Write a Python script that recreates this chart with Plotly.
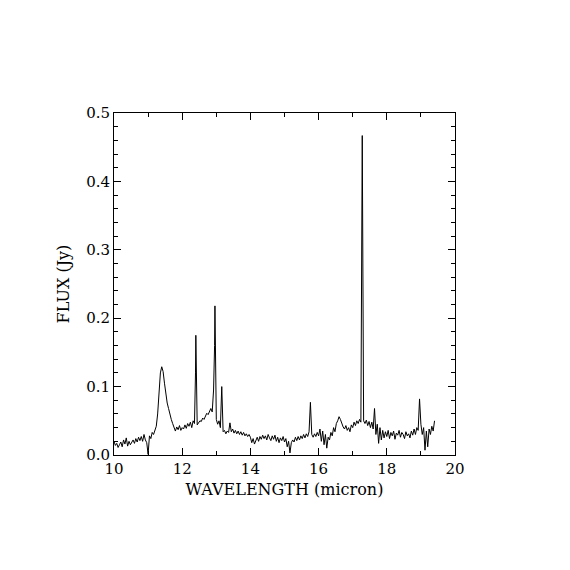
import plotly.graph_objects as go

# ---- spectrum (micron, Jy) ----

wavelength = [
    10.00, 10.04, 10.08, 10.12, 10.16, 10.20, 10.24, 10.28, 10.32, 10.36,
    10.40, 10.44, 10.48, 10.52, 10.56, 10.60, 10.64, 10.68, 10.72, 10.76,
    10.80, 10.84, 10.88, 10.92, 10.96, 11.00, 11.04, 11.08, 11.12, 11.16,
    11.20, 11.24, 11.28, 11.32, 11.36, 11.40, 11.44, 11.48, 11.52, 11.56,
    11.60, 11.64, 11.68, 11.72, 11.76, 11.80, 11.84, 11.88, 11.92, 11.96,
    12.00, 12.04, 12.08, 12.12, 12.16, 12.20, 12.24, 12.28, 12.32, 12.36,
    12.39, 12.40, 12.44, 12.48, 12.52, 12.56, 12.60, 12.64, 12.68, 12.72,
    12.76, 12.80, 12.84, 12.88, 12.92, 12.95, 12.96, 13.00, 13.04, 13.08,
    13.12, 13.16, 13.20, 13.24, 13.28, 13.32, 13.36, 13.40, 13.44, 13.48,
    13.52, 13.56, 13.60, 13.64, 13.68, 13.72, 13.76, 13.80, 13.84, 13.88,
    13.92, 13.96, 14.00, 14.04, 14.08, 14.12, 14.16, 14.20, 14.24, 14.28,
    14.32, 14.36, 14.40, 14.44, 14.48, 14.52, 14.56, 14.60, 14.64, 14.68,
    14.72, 14.76, 14.80, 14.84, 14.88, 14.92, 14.96, 15.00, 15.04, 15.08,
    15.12, 15.16, 15.20, 15.24, 15.28, 15.32, 15.36, 15.40, 15.44, 15.48,
    15.52, 15.56, 15.60, 15.64, 15.68, 15.72, 15.76, 15.80, 15.84, 15.88,
    15.92, 15.96, 16.00, 16.04, 16.08, 16.12, 16.16, 16.20, 16.24, 16.28,
    16.32, 16.36, 16.40, 16.44, 16.48, 16.52, 16.56, 16.60, 16.64, 16.68,
    16.72, 16.76, 16.80, 16.84, 16.88, 16.92, 16.96, 17.00, 17.04, 17.08,
    17.12, 17.16, 17.20, 17.24, 17.27, 17.28, 17.32, 17.36, 17.40, 17.44,
    17.48, 17.52, 17.56, 17.60, 17.64, 17.68, 17.72, 17.76, 17.80, 17.84,
    17.88, 17.92, 17.96, 18.00, 18.04, 18.08, 18.12, 18.16, 18.20, 18.24,
    18.28, 18.32, 18.36, 18.40, 18.44, 18.48, 18.52, 18.56, 18.60, 18.64,
    18.68, 18.72, 18.76, 18.80, 18.84, 18.88, 18.92, 18.96, 19.00, 19.04,
    19.08, 19.12, 19.16, 19.20, 19.24, 19.28, 19.32, 19.36, 19.40,
]

flux = [
    0.020, 0.014, 0.017, 0.011, 0.015, 0.019, 0.012, 0.022, 0.016, 0.025,
    0.013, 0.020, 0.015, 0.018, 0.022, 0.017, 0.024, 0.019, 0.026, 0.021,
    0.027, 0.020, 0.030, 0.022, 0.018, 0.001, 0.028, 0.024, 0.033, 0.030,
    0.038, 0.042, 0.060, 0.092, 0.120, 0.129, 0.122, 0.105, 0.088, 0.076,
    0.068, 0.058, 0.052, 0.046, 0.040, 0.035, 0.041, 0.037, 0.043, 0.036,
    0.040, 0.038, 0.044, 0.039, 0.046, 0.042, 0.048, 0.040, 0.050, 0.046,
    0.120, 0.175, 0.044, 0.047, 0.050, 0.049, 0.054, 0.052, 0.058, 0.061,
    0.059, 0.065, 0.068, 0.063, 0.095, 0.160, 0.218, 0.052, 0.045, 0.050,
    0.040, 0.100, 0.034, 0.036, 0.031, 0.035, 0.033, 0.047, 0.034, 0.038,
    0.032, 0.036, 0.031, 0.035, 0.030, 0.034, 0.029, 0.033, 0.028, 0.031,
    0.027, 0.030, 0.026, 0.018, 0.024, 0.016, 0.022, 0.026, 0.020, 0.027,
    0.023, 0.029, 0.024, 0.028, 0.022, 0.030, 0.025, 0.021, 0.028, 0.023,
    0.029, 0.020, 0.026, 0.018, 0.025, 0.021, 0.027, 0.019, 0.024, 0.012,
    0.020, 0.003, 0.018, 0.022, 0.019, 0.026, 0.021, 0.027, 0.022, 0.028,
    0.024, 0.030, 0.025, 0.031, 0.027, 0.034, 0.077, 0.030, 0.026, 0.031,
    0.027, 0.033, 0.028, 0.038, 0.020, 0.035, 0.015, 0.030, 0.010, 0.026,
    0.022, 0.033, 0.028, 0.040, 0.034, 0.046, 0.050, 0.056, 0.052, 0.046,
    0.041, 0.038, 0.043, 0.036, 0.040, 0.034, 0.044, 0.040, 0.048, 0.043,
    0.050, 0.046, 0.052, 0.048, 0.375, 0.467, 0.050, 0.046, 0.051, 0.043,
    0.049, 0.040, 0.048, 0.038, 0.068, 0.030, 0.045, 0.017, 0.040, 0.022,
    0.036, 0.025, 0.034, 0.027, 0.036, 0.024, 0.033, 0.028, 0.035, 0.023,
    0.032, 0.029, 0.036, 0.026, 0.033, 0.030, 0.024, 0.034, 0.028, 0.031,
    0.025, 0.035, 0.029, 0.038, 0.030, 0.040, 0.036, 0.082, 0.045, 0.030,
    0.040, 0.007, 0.035, 0.012, 0.038, 0.030, 0.042, 0.035, 0.050,
]

x_ticks = [10, 12, 14, 16, 18, 20]
y_ticks = [0.0, 0.1, 0.2, 0.3, 0.4, 0.5]
y_tick_labels = ["0.0", "0.1", "0.2", "0.3", "0.4", "0.5"]

FONT = "DejaVu Serif"

fig = go.Figure()

fig.add_trace(go.Scatter(
    x=wavelength, y=flux,
    mode="lines",
    line=dict(color="black", width=1),
    showlegend=False,
    hoverinfo="skip",
))

axis_common = dict(
    showline=True, linecolor="black", linewidth=1,
    mirror="allticks", ticks="inside", ticklen=7, tickwidth=1,
    tickcolor="black", showgrid=False, zeroline=False,
    tickfont=dict(family=FONT, size=15, color="black"),
)

fig.update_xaxes(
    range=[10, 20], tickvals=x_ticks,
    minor=dict(dtick=1, ticks="inside", ticklen=4, tickcolor="black"),
    title=dict(text="WAVELENGTH (micron)", standoff=6,
               font=dict(family=FONT, size=16, color="black")),
    **axis_common,
)
fig.update_yaxes(
    range=[0, 0.5], tickvals=y_ticks, ticktext=y_tick_labels,
    minor=dict(dtick=0.02, ticks="inside", ticklen=4, tickcolor="black"),
    title=dict(text="FLUX (Jy)", standoff=12,
               font=dict(family=FONT, size=16, color="black")),
    **axis_common,
)

# page has an 8px body margin, so margins are shifted to land the frame
fig.update_layout(
    width=570, height=570,
    margin=dict(l=106, r=123, t=105, b=123),
    paper_bgcolor="white", plot_bgcolor="white",
)

fig.write_html("out.html")
